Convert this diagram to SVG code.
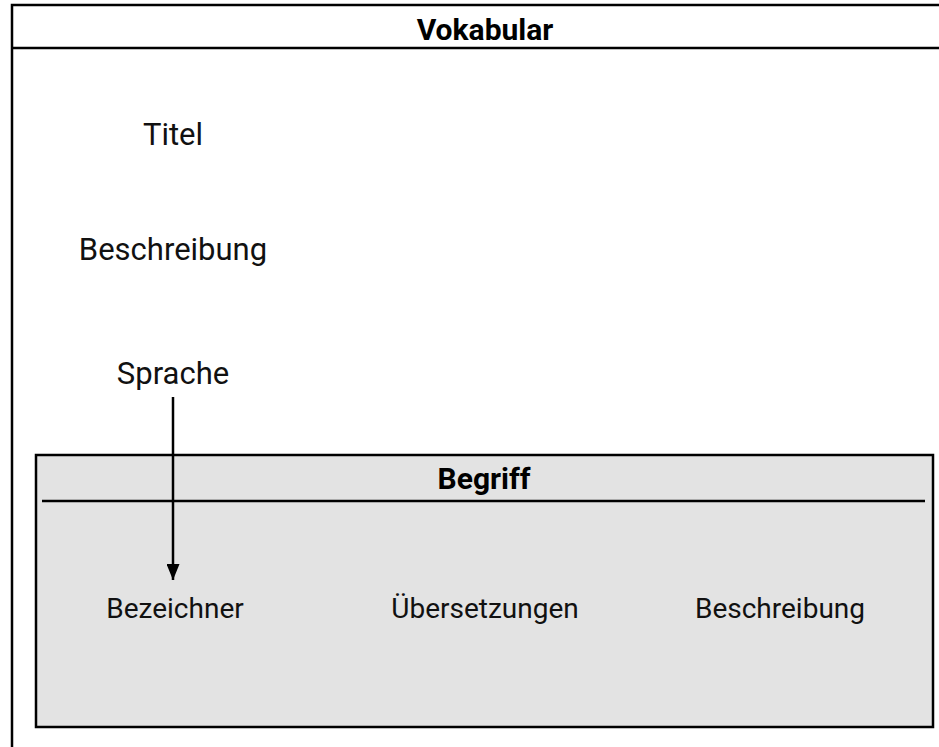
<svg xmlns="http://www.w3.org/2000/svg" width="939" height="747" viewBox="0 0 939 747">
  <style>
    .frame { fill: none; stroke: #000; stroke-width: 2.5; }
    .box { fill: #e3e3e3; stroke: #000; stroke-width: 2.5; }
    .rule { stroke: #000; stroke-width: 2.5; }
    .title { font-family: Roboto, "Liberation Sans", sans-serif; font-weight: bold; font-size: 30px; fill: #000; text-anchor: middle; }
    .attr { font-family: Roboto, "Liberation Sans", sans-serif; font-size: 31px; fill: #111; text-anchor: middle; }
    .inner { font-size: 28px; }
    .conn { stroke: #000; stroke-width: 2.5; fill: none; }
  </style>
  <defs>
    <marker id="arrow" viewBox="0 0 10 10" refX="10" refY="5" markerWidth="16" markerHeight="13" markerUnits="userSpaceOnUse" orient="auto" preserveAspectRatio="none">
      <path d="M0,0 L10,5 L0,10 Z" fill="#000"/>
    </marker>
  </defs>
  <rect width="939" height="747" fill="#fff"/>

  <g id="vokabular">
    <path class="frame" d="M12,750 L12,5 L945,5"/>
    <line class="rule" x1="12" y1="48" x2="939" y2="48"/>
    <text class="title" x="485" y="40">Vokabular</text>
    <text class="attr" x="173" y="145">Titel</text>
    <text class="attr" x="173" y="260">Beschreibung</text>
    <text class="attr" x="173" y="384">Sprache</text>
  </g>

  <g id="begriff">
    <rect class="box" x="36" y="455" width="897" height="272"/>
    <line class="rule" x1="42" y1="501" x2="925" y2="501"/>
    <text class="title" x="484" y="489">Begriff</text>
    <text class="attr inner" x="175" y="618">Bezeichner</text>
    <text class="attr inner" x="485" y="618">Übersetzungen</text>
    <text class="attr inner" x="780" y="618">Beschreibung</text>
  </g>

  <g id="connectors">
    <line class="conn" x1="173" y1="397" x2="173" y2="580" marker-end="url(#arrow)"/>
  </g>
</svg>
